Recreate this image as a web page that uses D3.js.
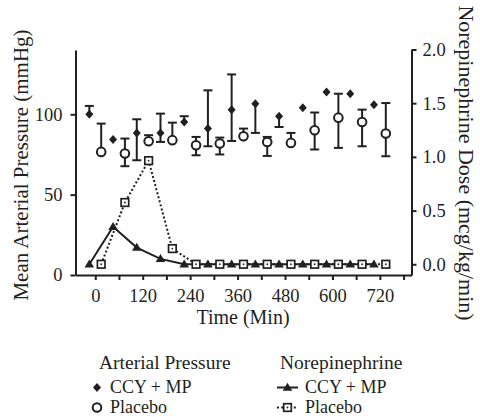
<!DOCTYPE html>
<html>
<head>
<meta charset="utf-8">
<script src="https://cdn.jsdelivr.net/npm/d3@7"></script>
<style>
    body { margin: 0; background: #fff; }
    svg text { font-family: "Liberation Serif", "DejaVu Serif", serif; fill: #231f20; }
</style>
</head>
<body>
<div id="chart-first"></div>
<script>
//Datos (tiempo en minutos)
let times = [0, 60, 120, 180, 240, 300, 360, 420, 480, 540, 600, 660, 720];

//Presión arterial media (mmHg)
let map_ccy = [100.0, 84.3, 88.4, 88.4, 95.2, 91.1, 102.9, 106.6, 98.8, 104.1, 113.9, 112.8, 105.9];
let map_ccy_hi = [105.2, null, 96.9, 100.4, 98.8, 114.9, 124.8, null, null, null, null, null, null];
let map_ccy_lo = [null, null, 71.4, 82.8, null, 80.1, 83.4, 88.4, 92.1, null, null, null, null];

let map_placebo = [76.6, 75.6, 83.2, 83.9, 80.7, 81.8, 86.3, 82.8, 82.2, 90.1, 97.9, 95.2, 88.0];
let map_placebo_hi = [94.2, 84.9, 87.0, 94.8, 85.9, 85.5, 91.1, 85.9, 88.4, 101.1, 112.8, 102.9, 107.0];
let map_placebo_lo = [null, 67.7, null, null, 74.5, 75.0, null, 74.1, null, 78.1, 79.1, 80.1, 73.9];

//Dosis de norepinefrina (mcg/kg/min)
let ne_ccy = [0.0, 0.35, 0.155, 0.05, 0, 0, 0, 0, 0, 0, 0, 0, 0];
let ne_placebo = [0.0, 0.575, 0.965, 0.146, 0, 0, 0, 0, 0, 0, 0, 0, 0];

//Ejes
let x_ticks = [0, 60, 120, 180, 240, 300, 360, 420, 480, 540, 600, 660, 720, 780];
let x_labels = [0, 120, 240, 360, 480, 600, 720];
let left_ticks = [0, 50, 100];
let right_ticks = [0, 0.5, 1.0, 1.5, 2.0];

let ink = '#231f20';
let ccy_shift = -15, placebo_shift = 15;

let svg = d3.select('#chart-first')
    .append('svg')
    .attr('width', 480)
    .attr('height', 417);

let x = d3.scaleLinear().domain([-50, 800]).range([75.5, 411.5]);
let y_left = d3.scaleLinear().domain([0, 140]).range([275, 50]);
let y_right = d3.scaleLinear().domain([-0.1, 2.0]).range([275, 49.5]);

function styleAxis(g, size) {
    g.attr('font-family', null).attr('font-size', null);
    g.selectAll('.domain').attr('stroke', ink).attr('stroke-width', 2);
    g.selectAll('.tick line').attr('stroke', ink).attr('stroke-width', 2);
    g.selectAll('.tick text').style('font-size', size + 'px');
}

//Eje X
svg.append('g')
    .attr('transform', 'translate(0,275)')
    .call(d3.axisBottom(x).tickValues(x_ticks).tickSize(5).tickSizeOuter(0).tickPadding(9)
        .tickFormat(function(d) { return x_labels.indexOf(d) != -1 ? d : ''; }))
    .call(styleAxis, 18.5);

//Eje Y izquierdo
svg.append('g')
    .attr('transform', 'translate(75.5,0)')
    .call(d3.axisLeft(y_left).tickValues(left_ticks).tickSize(5).tickSizeOuter(0).tickPadding(8))
    .call(styleAxis, 18.5);

//Eje Y derecho
svg.append('g')
    .attr('transform', 'translate(411.5,0)')
    .call(d3.axisRight(y_right).tickValues(right_ticks).tickSize(5).tickSizeOuter(0).tickPadding(6)
        .tickFormat(d3.format('.1f')))
    .call(styleAxis, 18.5);

//Títulos de ejes
svg.append('text')
    .attr('x', 243).attr('y', 324)
    .attr('text-anchor', 'middle')
    .style('font-size', '20px')
    .text('Time (Min)');

svg.append('text')
    .attr('transform', 'translate(28,165) rotate(-90)')
    .attr('text-anchor', 'middle')
    .style('font-size', '21px')
    .text('Mean Arterial Pressure (mmHg)');

svg.append('text')
    .attr('transform', 'translate(459,163) rotate(90)')
    .attr('text-anchor', 'middle')
    .style('font-size', '22px')
    .text('Norepinephrine Dose (mcg/kg/min)');

//Formas de los marcadores
let diamond = 'M0,-4.5L4,0L0,4.5L-4,0Z';
let triangle = 'M0,-4.8L4.8,3.2L-4.8,3.2Z';

//Líneas de norepinefrina
let ne_line = function(shift) {
    return d3.line()
        .x(function(d, i) { return x(times[i] + shift); })
        .y(function(d) { return y_right(d); });
};

svg.append('path')
    .datum(ne_placebo)
    .attr('d', ne_line(placebo_shift))
    .attr('fill', 'none')
    .attr('stroke', ink)
    .attr('stroke-width', 2)
    .attr('stroke-dasharray', '2,2.2');

svg.append('path')
    .datum(ne_ccy)
    .attr('d', ne_line(ccy_shift))
    .attr('fill', 'none')
    .attr('stroke', ink)
    .attr('stroke-width', 2);

svg.selectAll('.ne-placebo')
    .data(ne_placebo)
    .enter()
    .append('g')
    .attr('class', 'ne-placebo')
    .attr('transform', function(d, i) { return `translate(${x(times[i] + placebo_shift)},${y_right(d)})`; })
    .each(function() {
        let g = d3.select(this);
        g.append('rect').attr('x', -3.8).attr('y', -3.8).attr('width', 7.6).attr('height', 7.6)
            .attr('fill', '#fff').attr('stroke', ink).attr('stroke-width', 1.7);
        g.append('circle').attr('r', 0.9).attr('fill', ink);
    });

svg.selectAll('.ne-ccy')
    .data(ne_ccy)
    .enter()
    .append('path')
    .attr('class', 'ne-ccy')
    .attr('d', triangle)
    .attr('fill', ink)
    .attr('transform', function(d, i) { return `translate(${x(times[i] + ccy_shift)},${y_right(d)})`; });

//Barras de error de presión arterial
function errorBars(values, hi, lo, shift, name) {
    let bars = [];
    values.forEach(function(v, i) {
        if (hi[i] != null) bars.push({t: times[i] + shift, from: v, to: hi[i]});
        if (lo[i] != null) bars.push({t: times[i] + shift, from: v, to: lo[i]});
    });
    let g = svg.selectAll('.err-' + name)
        .data(bars)
        .enter()
        .append('g')
        .attr('class', 'err-' + name);
    g.append('line')
        .attr('x1', function(d) { return x(d.t); })
        .attr('x2', function(d) { return x(d.t); })
        .attr('y1', function(d) { return y_left(d.from); })
        .attr('y2', function(d) { return y_left(d.to); })
        .attr('stroke', ink).attr('stroke-width', 2);
    g.append('line')
        .attr('x1', function(d) { return x(d.t) - 4.5; })
        .attr('x2', function(d) { return x(d.t) + 4.5; })
        .attr('y1', function(d) { return y_left(d.to); })
        .attr('y2', function(d) { return y_left(d.to); })
        .attr('stroke', ink).attr('stroke-width', 2);
}

errorBars(map_ccy, map_ccy_hi, map_ccy_lo, ccy_shift, 'ccy');
errorBars(map_placebo, map_placebo_hi, map_placebo_lo, placebo_shift, 'placebo');

svg.selectAll('.map-ccy')
    .data(map_ccy)
    .enter()
    .append('path')
    .attr('class', 'map-ccy')
    .attr('d', diamond)
    .attr('fill', ink)
    .attr('transform', function(d, i) { return `translate(${x(times[i] + ccy_shift)},${y_left(d)})`; });

svg.selectAll('.map-placebo')
    .data(map_placebo)
    .enter()
    .append('circle')
    .attr('class', 'map-placebo')
    .attr('cx', function(d, i) { return x(times[i] + placebo_shift); })
    .attr('cy', function(d) { return y_left(d); })
    .attr('r', 4.3)
    .attr('fill', '#fff')
    .attr('stroke', ink)
    .attr('stroke-width', 2);

//Leyenda
let legend = svg.append('g').style('font-size', '18px');

legend.append('text').attr('x', 99).attr('y', 369).style('font-size', '19.5px').text('Arterial Pressure');
legend.append('path').attr('d', diamond).attr('fill', ink).attr('transform', 'translate(97,387.5)');
legend.append('text').attr('x', 110).attr('y', 393).text('CCY + MP');
legend.append('circle').attr('cx', 97).attr('cy', 407.5).attr('r', 4.3)
    .attr('fill', '#fff').attr('stroke', ink).attr('stroke-width', 2);
legend.append('text').attr('x', 110).attr('y', 413).text('Placebo');

legend.append('text').attr('x', 280).attr('y', 369).style('font-size', '19.5px').text('Norepinephrine');
legend.append('line').attr('x1', 277).attr('x2', 298).attr('y1', 387.5).attr('y2', 387.5)
    .attr('stroke', ink).attr('stroke-width', 2);
legend.append('path').attr('d', triangle).attr('fill', ink).attr('transform', 'translate(287.5,387.5)');
legend.append('text').attr('x', 305).attr('y', 393).text('CCY + MP');
legend.append('line').attr('x1', 277).attr('x2', 298).attr('y1', 407.5).attr('y2', 407.5)
    .attr('stroke', ink).attr('stroke-width', 2).attr('stroke-dasharray', '2,2.2');
legend.append('rect').attr('x', 283.7).attr('y', 403.7).attr('width', 7.6).attr('height', 7.6)
    .attr('fill', '#fff').attr('stroke', ink).attr('stroke-width', 1.7);
legend.append('circle').attr('cx', 287.5).attr('cy', 407.5).attr('r', 0.9).attr('fill', ink);
legend.append('text').attr('x', 305).attr('y', 413).text('Placebo');
</script>
</body>
</html>
